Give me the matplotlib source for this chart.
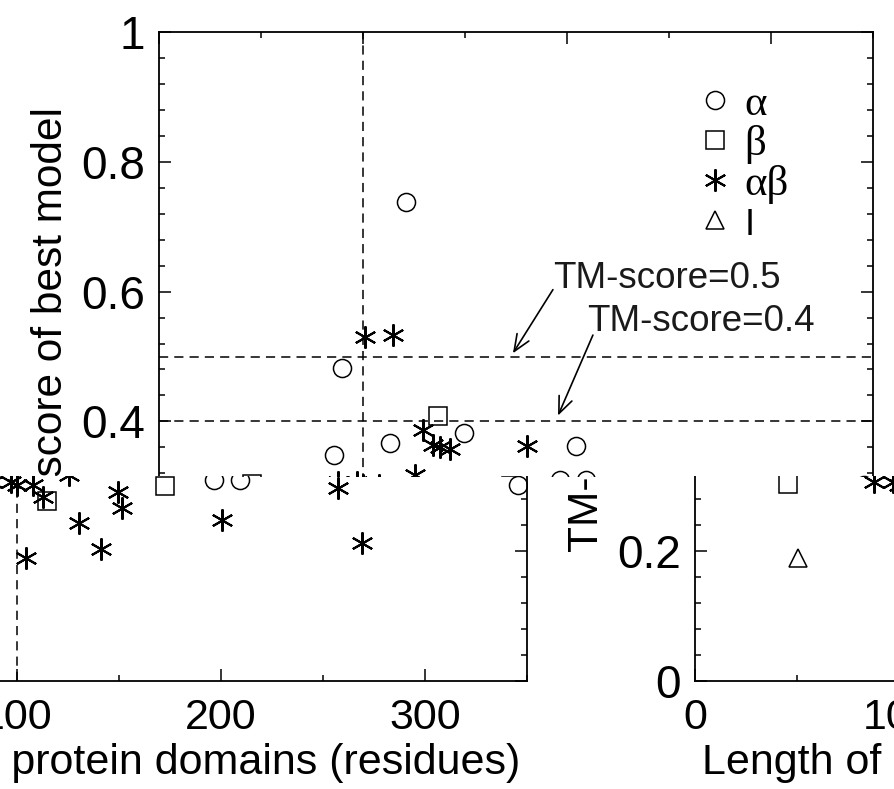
import matplotlib
matplotlib.use('Agg')
import matplotlib.pyplot as plt
from matplotlib.transforms import Bbox

plt.rcParams['font.family'] = ['Liberation Sans', 'DejaVu Sans']

W, H = 895, 789

# length of domain (residues) and TM-score of best model, per class
alpha_len = [121.1, 89.7, 113.2, 85.8, 149.5, 204.4, 196.4, 209.3, 345.6]
alpha_tm = [0.738, 0.483, 0.366, 0.348, 0.382, 0.362, 0.309, 0.309, 0.302]
beta_len = [136.8, 114.7, 172.6, 45.6]
beta_tm = [0.408, 0.278, 0.300, 0.303]
ab_len = [101.0, 114.7, 129.4, 134.3, 137.7, 142.6, 180.4, 125.5, 87.6, 97.1,
          100.0, 107.8, 112.7, 149.5, 151.5, 130.4, 141.2, 104.4, 200.5, 257.4, 269.1]
ab_tm = [0.530, 0.533, 0.387, 0.363, 0.360, 0.357, 0.362, 0.318, 0.307, 0.306,
         0.302, 0.302, 0.283, 0.291, 0.266, 0.243, 0.204, 0.189, 0.248, 0.298, 0.212]
i_len = [50.5]
i_tm = [0.189]

x_major = [0, 100, 200, 300]
x_labels = ['0', '100', '200', '300']
x_minor = [50, 150, 250, 350]
y_major = [0, 0.2, 0.4, 0.6, 0.8, 1.0]
y_labels = ['0', '0.2', '0.4', '0.6', '0.8', '1']
y_minor = [i * 0.04 for i in range(26)]

SERIF = ['Liberation Serif', 'DejaVu Serif']

AX = (159, 32, 873, 681)  # left, top, right, bottom in px


def draw_panel(fig, dx, extras):
    l, t, r, b = AX
    ax = fig.add_axes([(l + dx) / W, 1 - b / H, (r - l) / W, (b - t) / H])
    ax.patch.set_visible(False)
    ax.set_xlim(0, 350)
    ax.set_ylim(0, 1)

    dash = (0, (6, 4))
    ax.axhline(0.5, color='k', lw=1.1, ls=dash)
    ax.axhline(0.4, color='k', lw=1.1, ls=dash)
    ax.axvline(100, color='k', lw=1.1, ls=dash)

    ms = 13
    ax.plot(alpha_len, alpha_tm, 'o', ms=ms, mfc='none', mec='k', mew=1.1, label='α')
    ax.plot(beta_len, beta_tm, 's', ms=ms, mfc='none', mec='k', mew=1.1, label='β')
    ax.plot(ab_len, ab_tm, ls='none', marker=(6, 2, 0), ms=16, mec='k', mew=1.5, label='αβ')
    ax.plot(i_len, i_tm, '^', ms=ms, mfc='none', mec='k', mew=1.1, label='I')

    ax.set_xticks(x_major)
    ax.set_xticklabels(x_labels)
    ax.set_xticks(x_minor, minor=True)
    ax.set_yticks(y_major)
    ax.set_yticklabels(y_labels)
    ax.set_yticks(y_minor, minor=True)
    ax.tick_params(which='both', direction='in', top=True, right=True, width=1.1)
    ax.tick_params(which='major', length=8.5)
    ax.tick_params(which='minor', length=4.5)
    ax.tick_params(axis='y', labelsize=33, pad=10)
    ax.tick_params(axis='x', labelsize=31, pad=12)
    for sp in ax.spines.values():
        sp.set_linewidth(1.3)

    ax.set_xlabel('Length of protein domains (residues)', fontsize=31)
    ax.xaxis.set_label_coords(0.5, -0.096)
    ax.set_ylabel('TM-score of best model', fontsize=30.5)
    ax.yaxis.set_label_coords(-0.123, 0.541)

    if extras:
        leg = ax.legend(loc='upper left', bbox_to_anchor=(0.763, 0.918),
                        frameon=False, fontsize=31, numpoints=1, handlelength=0.52,
                        handletextpad=0.42, labelspacing=0.02, borderpad=0,
                        borderaxespad=0)
        for txt in leg.get_texts()[:3]:
            txt.set_fontfamily(SERIF)
        leg.get_texts()[3].set_fontsize(26)

        arrow = dict(arrowstyle='->, head_length=0.6, head_width=0.25',
                     lw=1.2, color='k', shrinkA=0, shrinkB=0, mutation_scale=20)
        ax.annotate('', xy=(173.5, 0.505), xytext=(193.1, 0.603), arrowprops=arrow)
        ax.annotate('', xy=(195.6, 0.409), xytext=(212.7, 0.533), arrowprops=arrow)
        ax.text(193.1, 0.605, 'TM-score=0.5', fontsize=26.5, va='baseline', color='#1a1a1a')
        ax.text(209.8, 0.540, 'TM-score=0.4', fontsize=26.5, va='baseline', color='#1a1a1a')
    return ax


def clip_panel(ax, box):
    # box = (x0, y0, x1, y1) in pixels, measured from the top left corner
    x0, y0, x1, y1 = box
    tile = Bbox.from_extents(x0, H - y1, x1, H - y0)
    for a in ax.findobj():
        if a is ax:
            continue
        cb = a.get_clip_box()
        if cb is not None and a.get_clip_on():
            inter = Bbox.intersection(Bbox(cb.get_points()), tile)
            if inter is None:
                a.set_visible(False)
                continue
            a.set_clip_box(inter)
        else:
            a.set_clip_box(tile)
        a.set_clip_on(True)


fig = plt.figure(figsize=(W / 100, H / 100), dpi=100)
fig.patch.set_facecolor('white')

top = draw_panel(fig, 0, True)
left_low = draw_panel(fig, -346, False)
right_low = draw_panel(fig, 536, False)

fig.canvas.draw()
clip_panel(top, (0, 0, W, 476))
clip_panel(left_low, (0, 476, 535, H))
clip_panel(right_low, (538, 476, W, H))

fig.savefig('out.png', dpi=100)
